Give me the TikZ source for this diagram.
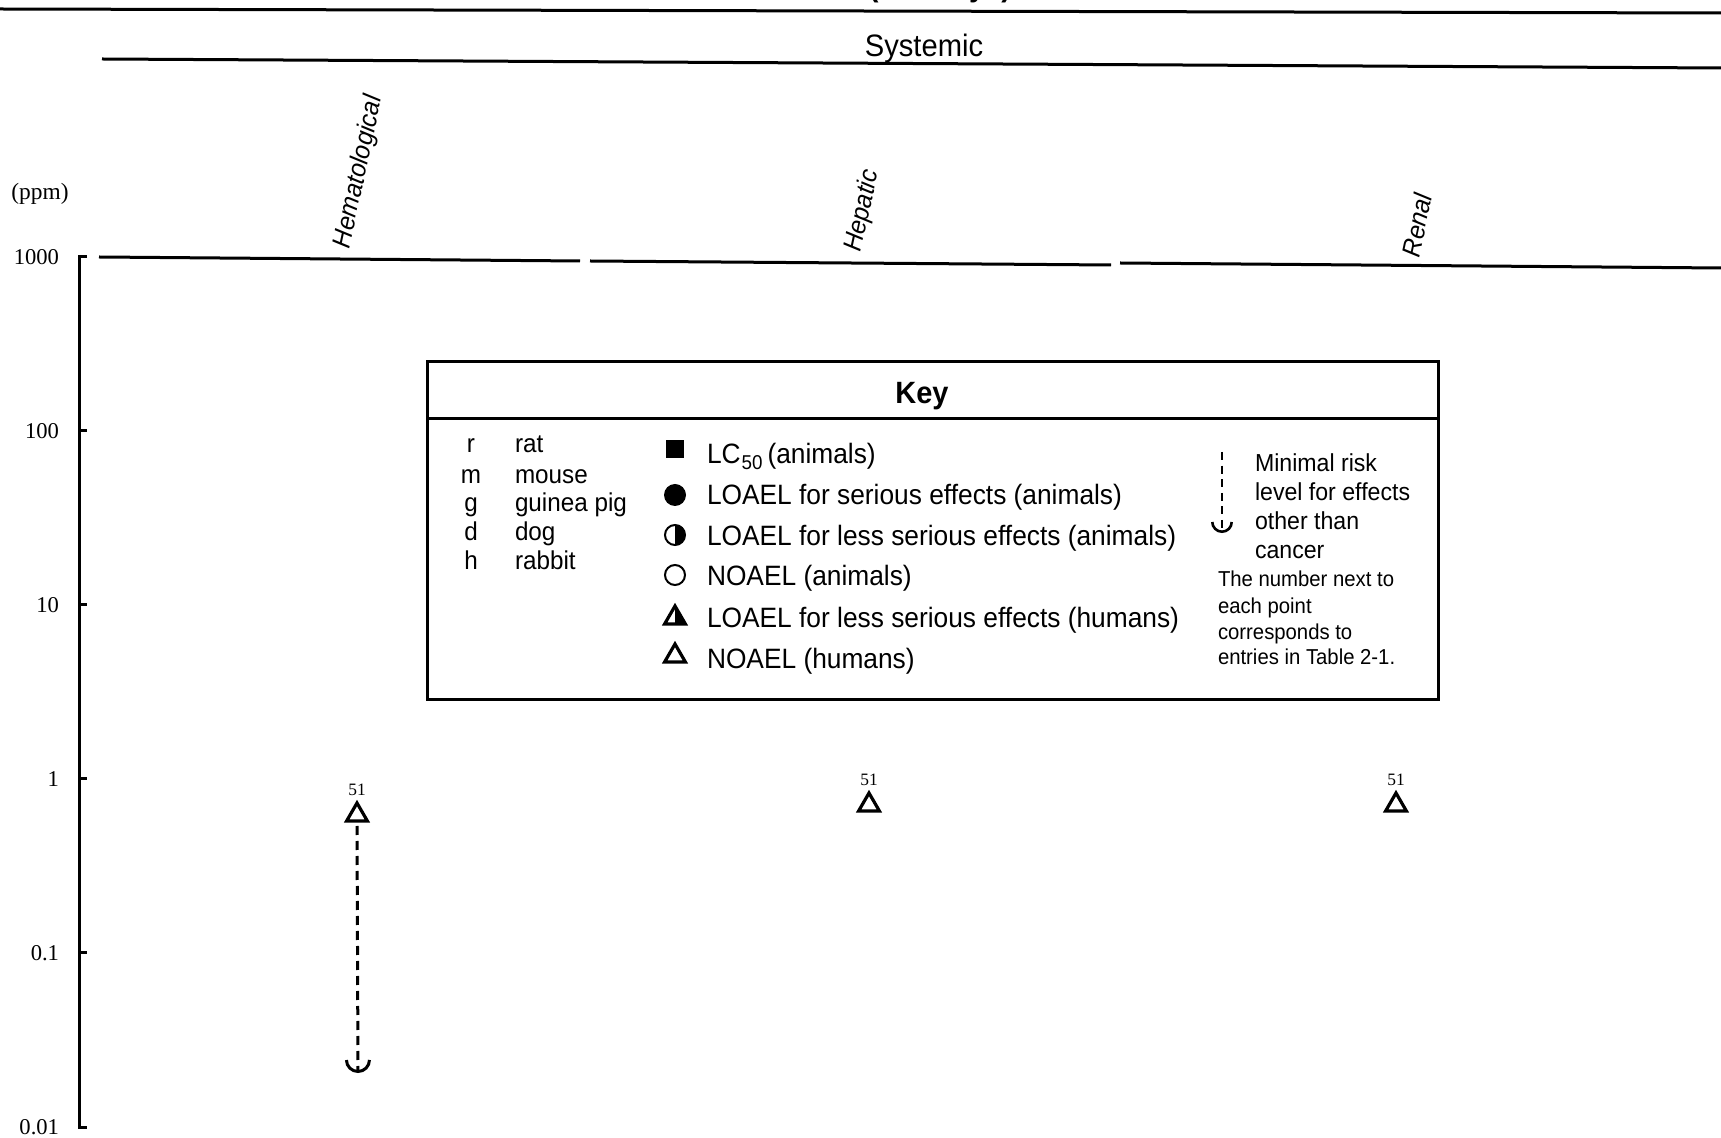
\documentclass[tikz,border=0pt]{standalone}
\usepackage{fontspec}
\setmainfont{Liberation Serif}
\newfontfamily\arialn[FakeStretch=0.94]{Liberation Sans}
\usetikzlibrary{positioning,shapes.geometric,arrows.meta}

\tikzset{every picture/.style={line width=1.5pt}}
\tikzset{
  axlbl/.style={anchor=east, inner sep=0.75pt, font=\fontsize{11.3}{13}\selectfont},
  organ/.style={rotate=78, inner sep=0.75pt, font=\arialn\itshape\fontsize{13}{15}\selectfont},
  tri/.style={draw, regular polygon, regular polygon sides=3, minimum size=12pt, inner sep=0pt, outer sep=0pt, line width=1.6pt},
  ptnum/.style={inner sep=0.5pt, font=\fontsize{8.7}{10}\selectfont},
  mrl/.style={dash pattern={on 4.5pt off 3pt}, line width=1.5pt, -{Arc Barb[width=13pt,length=6.5pt]}},
  keytxt/.style={anchor=base west, inner sep=0.75pt, font=\arialn\fontsize{14}{17}\selectfont},
  spctxt/.style={anchor=base west, inner sep=0.75pt, font=\arialn\fontsize{12.9}{15}\selectfont},
  mrltxt/.style={anchor=base west, inner sep=0.75pt, font=\arialn\fontsize{12.3}{15}\selectfont},
  notetxt/.style={anchor=base west, inner sep=0.75pt, font=\arialn\fontsize{10.8}{13}\selectfont},
  keysq/.style={fill, rectangle, minimum size=9pt, inner sep=0pt, outer sep=0pt},
  keydot/.style={fill, circle, minimum size=11pt, inner sep=0pt, outer sep=0pt},
  keyring/.style={draw, circle, minimum size=10pt, inner sep=0pt, outer sep=0pt, line width=1pt}
}

\begin{document}
\begin{tikzpicture}[x=0.5pt,y=0.5pt,yscale=-1,xscale=1]
\useasboundingbox (0,0) rectangle (1721,1138);

% Text Node
\node [anchor=base, inner sep=0.75pt, font=\arialn\bfseries\fontsize{15.5}{18}\selectfont] (durlbl) at (940,-3) {(≤14 days)};
%Straight Lines [top rule]
\draw    (0,9) -- (1721,13) ;
%Straight Lines [systemic rule]
\draw    (102,59) -- (1721,68) ;
% Text Node
\node [anchor=base, inner sep=0.75pt, font=\arialn\fontsize{15.5}{18}\selectfont] (systlbl) at (924,57) {Systemic};

% Text Node
\node [inner sep=0.75pt, font=\fontsize{11.7}{14}\selectfont] (unitlbl) at (40,194) {(ppm)};

%Straight Lines [axis]
\draw    (87,257) -- (79,257) -- (79,1127) -- (87,1127) ;
\foreach \yy in {431,605,779,953}
  \draw    (79,\yy) -- (87,\yy) ;
\foreach \yy/\lbl [count=\i] in {257/1000,431/100,605/10,779/1,953/0.1,1127/0.01}
  \node [axlbl] (yl\i) at (62,\yy) {\lbl};

%Straight Lines [1000 ppm rule, three parts]
\draw    (99,257) -- (580,261) ;
\draw    (590,261) -- (1111,265) ;
\draw    (1120,263) -- (1721,268) ;

% Text Node
\node [organ] (hemlbl) at (359,172) {Hematological};
% Text Node
\node [organ] (heplbl) at (863,211) {Hepatic};
% Text Node
\node [organ] (renlbl) at (1417,225) {Renal};

%Shape: Rectangle [key]
\draw    (427,362) rectangle (1438,700) ;
\draw    (427,419) -- (1438,419) ;
% Text Node
\node [inner sep=0.75pt, font=\arialn\bfseries\fontsize{15.4}{18}\selectfont] (keyttl) at (922,396) {Key};

% species
\foreach \yy/\ab/\nm [count=\i] in {453/r/rat,484/m/mouse,512/g/guinea pig,541/d/dog,570/h/rabbit}{
  \node [spctxt, anchor=base] (spab\i) at (471,\yy) {\ab};
  \node [spctxt] (spnm\i) at (512,\yy) {\nm};
}

% symbols
\node [keysq] (ksq) at (675,449) {};
\node [keydot] (kdot) at (675,495) {};
\node [keyring] (khalf) at (675,535) {};
\fill (khalf.north) arc[start angle=-90, end angle=90, radius=5pt] -- cycle;
\node [keyring] (kring) at (675,575) {};
\node [tri] (khtri) at (675,618) {};
\fill (khtri.corner 1) -- (khtri.corner 3) -- (khtri.south) -- cycle;
\node [tri] (kntri) at (675,656) {};

\node [keytxt] (ksqlbl) at (704,464) {LC\kern0.5pt\raisebox{-0.35ex}{\fontsize{10}{12}\selectfont 50}\kern2.5pt(animals)};
\node [keytxt] (kdotlbl) at (704,505) {LOAEL for serious effects (animals)};
\node [keytxt] (khalflbl) at (704,546) {LOAEL for less serious effects (animals)};
\node [keytxt] (kringlbl) at (704,586) {NOAEL (animals)};
\node [keytxt] (khtrilbl) at (704,628) {LOAEL for less serious effects (humans)};
\node [keytxt] (kntrilbl) at (704,669) {NOAEL (humans)};

% minimal risk level
\coordinate (kmrltop) at (1222,452);
\coordinate (kmrlend) at (1222,533);
\draw [mrl, line width=1.3pt, dash pattern={on 4pt off 2.8pt}, -{Arc Barb[width=11pt,length=5.5pt]}]  (kmrltop) -- (kmrlend) ;
\node [mrltxt] (mrl1) at (1252,472) {Minimal risk};
\node [mrltxt] (mrl2) at (1252,501) {level for effects};
\node [mrltxt] (mrl3) at (1252,530) {other than};
\node [mrltxt] (mrl4) at (1252,559) {cancer};
\node [notetxt] (note1) at (1215,587) {The number next to};
\node [notetxt] (note2) at (1215,614) {each point};
\node [notetxt] (note3) at (1215,640) {corresponds to};
\node [notetxt] (note4) at (1215,665) {entries in Table 2-1.};

% data points
\node [tri] (t51hem) at (357,815) {};
\node [ptnum, above=2.5pt of t51hem] (n51hem) {51};
\node [tri] (t51hep) at (869,805) {};
\node [ptnum, above=2.5pt of t51hep] (n51hep) {51};
\node [tri] (t51ren) at (1396,805) {};
\node [ptnum, above=2.5pt of t51ren] (n51ren) {51};

\coordinate (mrlhem) at (358,1073);
\draw [mrl, shorten <=2.5pt]  (t51hem.south) -- (mrlhem) ;

\end{tikzpicture}
\end{document}
